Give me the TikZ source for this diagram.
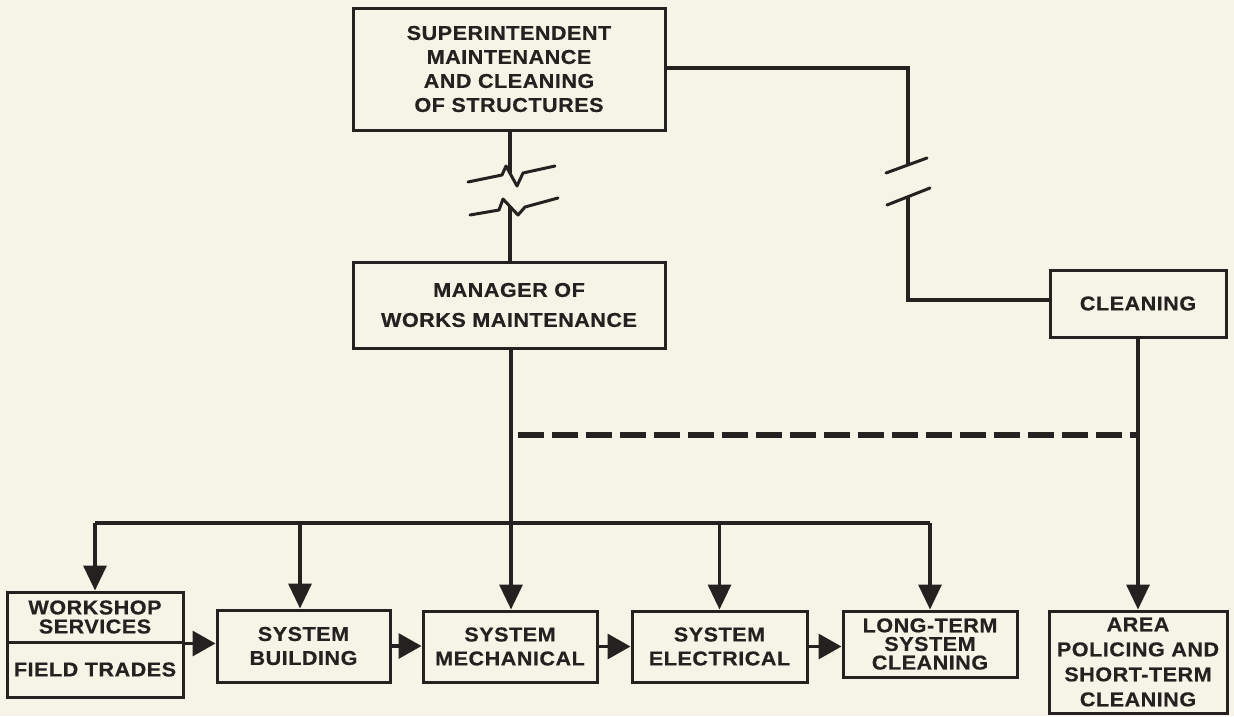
\documentclass[tikz,border=0pt]{standalone}
\usepackage{fontspec}
\newfontfamily\lab[FakeStretch=1.08,LetterSpace=2.5,BoldFeatures={FakeBold=0.5}]{Liberation Sans}
\usetikzlibrary{arrows.meta}
\definecolor{paper}{RGB}{246,244,230}
\definecolor{ink}{RGB}{38,33,33}
\begin{document}
\begin{tikzpicture}[x=1pt,y=-1pt,
  box/.style={draw=ink, line width=3pt, fill=paper, inner sep=0pt, text=ink,
    align=center, font=\lab\bfseries\fontsize{20}{24}\selectfont},
  wide/.style={font=\lab\bfseries\fontsize{20}{30}\selectfont},
  tight/.style={font=\lab\bfseries\fontsize{20}{18.6}\selectfont},
  wire/.style={draw=ink, line width=3.4pt},
  arr/.style={wire, -{Triangle[length=25pt,width=23pt]}},
  harr/.style={wire, -{Triangle[length=23pt,width=25pt]}},
  brk/.style={draw=ink, line width=3pt, line cap=round, line join=round},
  dash line/.style={draw=ink, line width=5.5pt, dash pattern=on 26pt off 8pt}]

\fill[paper] (0,0) rectangle (1234,716);
\useasboundingbox (0,0) rectangle (1234,716);

% management boxes
\node[box, minimum width=312pt, minimum height=122pt] (sup) at (509,69)
  {SUPERINTENDENT\\MAINTENANCE\\AND CLEANING\\OF STRUCTURES};
\node[box, wide, minimum width=312pt, minimum height=86pt] (mgr) at (509,305)
  {MANAGER OF\\WORKS MAINTENANCE};
\node[box, minimum width=176pt, minimum height=67pt] (cln) at (1138,303.5)
  {CLEANING};

% working units
\node[box, font=\lab\bfseries\fontsize{20}{19}\selectfont,
  minimum width=176pt, minimum height=50pt] (wsa) at (95,617)
  {WORKSHOP\\SERVICES};
\node[box, minimum width=176pt, minimum height=55pt] (wsb) at (95,669.5)
  {FIELD TRADES};
\node[box, minimum width=173pt, minimum height=72pt] (bld) at (303.5,646)
  {SYSTEM\\BUILDING};
\node[box, minimum width=174pt, minimum height=71pt] (mech) at (510,646.5)
  {SYSTEM\\MECHANICAL};
\node[box, minimum width=175pt, minimum height=71pt] (elec) at (719.5,646.5)
  {SYSTEM\\ELECTRICAL};
\node[box, tight, minimum width=174pt, minimum height=66pt] (lt) at (930,644)
  {LONG-TERM\\SYSTEM\\CLEANING};
\node[box, minimum width=178pt, minimum height=102pt,
  font=\lab\bfseries\fontsize{20}{25}\selectfont] (area) at (1138,662)
  {AREA\\POLICING AND\\SHORT-TERM\\CLEANING};

% superintendent to manager, with a break
\coordinate (b1) at (510,173);
\coordinate (b2) at (510,206.5);
\draw[wire] (sup.south -| b1) -- (b1);
\draw[wire] (b2) -- (mgr.north -| b2);
\draw[brk] (468,182) -- (502,175) -- (506,166) -- (517,186) -- (523,173) -- (555,166);
\draw[brk] (470,215) -- (499,210) -- (503,199) -- (518,215) -- (525,207) -- (558,198);

% superintendent to cleaning, with a break
\coordinate (r0) at (908,68);
\coordinate (r1) at (908,165);
\coordinate (r2) at (908,197);
\coordinate (r3) at (908,300);
\draw[wire] (sup.east |- r0) -- (r0) -- (r1);
\draw[wire] (r2) -- (r3) -- (r3 -| cln.west);
\draw[brk] (886,173) -- (927,158);
\draw[brk] (887,205) -- (930,188);

% manager to the working units
\coordinate (bus) at (511,523);
\draw[arr] (mgr.south -| bus) -- (mech.north -| bus);
\draw[wire] (bus -| wsa.north) -- (bus -| lt.north);
\draw[arr] (bus -| wsa.north) -- (wsa.north);
\draw[arr] (bus -| 300,0) -- (bld.north -| 300,0);
\draw[arr] (bus -| elec.north) -- (elec.north);
\draw[arr] (bus -| lt.north) -- (lt.north);

% cleaning to area policing
\draw[arr] (cln.south) -- (area.north);

% coordination link
\coordinate (d0) at (518,435);
\draw[dash line] (d0) -- (d0 -| cln.south);

% flow between the units
\draw[harr] (wsa.south east) -- (wsa.south east -| bld.west);
\draw[harr] (bld.east) -- (bld.east -| mech.west);
\draw[harr] (mech.east) -- (mech.east -| elec.west);
\draw[harr] (elec.east) -- (elec.east -| lt.west);
\end{tikzpicture}
\end{document}
